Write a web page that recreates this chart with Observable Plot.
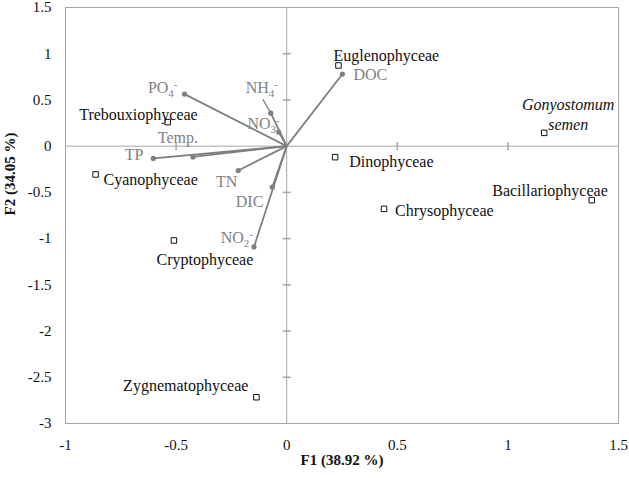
<!DOCTYPE html>
<html><head><meta charset="utf-8">
<script src="https://cdn.jsdelivr.net/npm/d3@7"></script>
<script src="https://cdn.jsdelivr.net/npm/@observablehq/plot@0.6"></script>
<style>body{margin:0;background:#fff} svg, svg text, svg tspan {font-family: "Liberation Serif", "Times New Roman", serif !important;}</style>
</head><body><div id="chart"></div>
<script>
// ---- data ----
const species = ["Euglenophyceae", "Gonyostomum semen", "Dinophyceae", "Chrysophyceae", "Bacillariophyceae",
  "Trebouxiophyceae", "Cyanophyceae", "Cryptophyceae", "Zygnematophyceae"];
const speciesF1 = [0.234, 1.164, 0.219, 0.44, 1.379, -0.538, -0.864, -0.51, -0.137];
const speciesF2 = [0.873, 0.144, -0.119, -0.678, -0.584, 0.26, -0.306, -1.02, -2.716];

const variables = ["PO4-", "NH4-", "NO3-", "Temp.", "TP", "TN", "DIC", "NO2-", "DOC"];
const variableF1 = [-0.462, -0.072, -0.036, -0.424, -0.603, -0.219, -0.065, -0.148, 0.252];
const variableF2 = [0.563, 0.357, 0.152, -0.116, -0.133, -0.263, -0.444, -1.09, 0.78];

const xTicks = [-1, -0.5, 0, 0.5, 1, 1.5];
const yTicks = [-3, -2.5, -2, -1.5, -1, -0.5, 0, 0.5, 1, 1.5];
const xInnerTicks = [-0.5, 0.5, 1];
const yInnerTicks = [-2.5, -2, -1.5, -1, -0.5, 0.5, 1];
const xTitle = "F1 (38.92 %)";
const yTitle = "F2 (34.05 %)";

// ---- label placement (pixel offsets) ----
const speciesLabelStyle = {
  "Euglenophyceae":   {anchor: "start",  dx: -5, dy: -11},
  "Gonyostomum semen":{anchor: "middle", dx: 24, dy: -19, italic: true, split: true},
  "Dinophyceae":      {anchor: "start",  dx: 14, dy: 3},
  "Chrysophyceae":    {anchor: "start",  dx: 11, dy: 1},
  "Bacillariophyceae":{anchor: "end",    dx: 16, dy: -11},
  "Trebouxiophyceae": {anchor: "end",    dx: 30, dy: -9},
  "Cyanophyceae":     {anchor: "start",  dx: 8,  dy: 4},
  "Cryptophyceae":    {anchor: "middle", dx: 31, dy: 18},
  "Zygnematophyceae": {anchor: "end",    dx: -8, dy: -13}
};
const variableLabelStyle = {
  "PO4-":  {anchor: "end",    dx: -7,  dy: -6},
  "NH4-":  {anchor: "middle", dx: -9,  dy: -25, leader: true},
  "NO3-":  {anchor: "end",    dx: 1,   dy: -8},
  "Temp.": {anchor: "middle", dx: -15, dy: -19},
  "TP":    {anchor: "end",    dx: -10, dy: -4},
  "TN":    {anchor: "end",    dx: -1,  dy: 11},
  "DIC":   {anchor: "end",    dx: -9,  dy: 15},
  "NO2-":  {anchor: "end",    dx: -1,  dy: -9},
  "DOC":   {anchor: "start",  dx: 11,  dy: 1}
};

const speciesData = species.map((name, i) => ({name, x: speciesF1[i], y: speciesF2[i]}));
const varData = variables.map((name, i) => ({name, x: variableF1[i], y: variableF2[i]}));

const axisGray = "#a6a6a6";
const vecGray = "#7f7f7f";
const font = "'Liberation Serif', 'Times New Roman', serif";

const crossV = {draw(ctx, size) { const r = Math.sqrt(size / Math.PI); ctx.moveTo(0, -r); ctx.lineTo(0, r); }};
const crossH = {draw(ctx, size) { const r = Math.sqrt(size / Math.PI); ctx.moveTo(-r, 0); ctx.lineTo(r, 0); }};
const leaderSym = {draw(ctx) { ctx.moveTo(0, 0); ctx.lineTo(-8, -14); }};

const marks = [
  Plot.frame({stroke: axisGray}),
  Plot.ruleX([0], {stroke: axisGray}),
  Plot.ruleY([0], {stroke: axisGray}),
  Plot.dot(xInnerTicks, {x: d => d, y: 0, symbol: crossV, r: 4, stroke: axisGray, fill: "none"}),
  Plot.dot(yInnerTicks, {x: 0, y: d => d, symbol: crossH, r: 4, stroke: axisGray, fill: "none"}),
  Plot.link(varData, {x1: 0, y1: 0, x2: "x", y2: "y", stroke: vecGray, strokeWidth: 1.8}),
  Plot.dot(varData.filter(d => variableLabelStyle[d.name].leader), {x: "x", y: "y", symbol: leaderSym, r: 3, stroke: vecGray, strokeWidth: 1.2, fill: "none"}),
  Plot.dot(varData, {x: "x", y: "y", r: 2.6, fill: vecGray, stroke: "none"}),
  Plot.dot(speciesData, {x: "x", y: "y", symbol: "square", r: 3.1, fill: "white", stroke: "#111", strokeWidth: 1}),
];

for (const d of varData) {
  const s = variableLabelStyle[d.name];
  marks.push(Plot.text([d], {x: "x", y: "y", text: "name", textAnchor: s.anchor, dx: s.dx, dy: s.dy,
    fill: vecGray, fontSize: 16, fontFamily: font, className: "varlabel"}));
}
for (const d of speciesData) {
  const s = speciesLabelStyle[d.name];
  marks.push(Plot.text([d], {x: "x", y: "y", text: s.split ? (v => v.name.replace(" ", "\n")) : "name",
    textAnchor: s.anchor, dx: s.dx, dy: s.dy, fill: "#111", fontSize: 16, fontFamily: font,
    fontStyle: s.italic ? "italic" : "normal", lineHeight: 1.25}));
}
marks.push(Plot.text([xTitle], {frameAnchor: "bottom", text: d => d, dy: 41, fontWeight: "bold", fontSize: 15, fontFamily: font, fill: "#111"}));
marks.push(Plot.text([yTitle], {frameAnchor: "left", text: d => d, dx: -55, rotate: -90, fontWeight: "bold", fontSize: 15, fontFamily: font, fill: "#111"}));

const chart = Plot.plot({
  width: 629,
  height: 478,
  marginLeft: 65,
  marginRight: 11,
  marginTop: 7,
  marginBottom: 55,
  style: {fontSize: "15px", color: "#111", background: "#fff"},
  x: {domain: [-1, 1.5], ticks: xTicks, tickSize: 0, tickPadding: 16, tickFormat: d => String(d), label: null},
  y: {domain: [-3, 1.5], ticks: yTicks, tickSize: 0, tickPadding: 14, tickFormat: d => String(d), label: null},
  marks
});
d3.select(chart).attr("font-family", font).attr("font-size", 15);

// subscript / superscript for ion labels
d3.select(chart).selectAll(".varlabel text").each(function() {
  const t = this.textContent;
  const m = t.match(/^([A-Za-z]+)(\d)(-)$/);
  if (!m) return;
  const sel = d3.select(this);
  sel.text(m[1]);
  sel.append("tspan").attr("font-size", 11).attr("dy", 4).text(m[2]);
  sel.append("tspan").attr("font-size", 11).attr("dy", -9).text(m[3]);
});

document.getElementById("chart").appendChild(chart);
</script>
</body></html>
